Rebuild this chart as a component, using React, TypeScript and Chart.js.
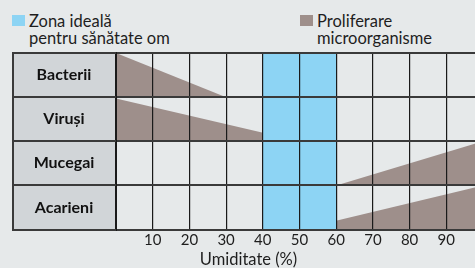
import React, { useEffect, useRef } from "react";
import { Chart, registerables } from "chart.js";

Chart.register(...registerables);

const categories = ["Bacterii", "Viruși", "Mucegai", "Acarieni"];
const xTicks = [0, 10, 20, 30, 40, 50, 60, 70, 80, 90, 100];
// ideal zone (humidity %)
const idealZone = [40, 60];
// proliferation wedges: [x start, y start] -> [x end, y end] in row units (row bottom = base)
const bacteriiWedge = [{ x: 0, y: 4 }, { x: 30, y: 3 }];
const virusiWedge = [{ x: 0, y: 2.97 }, { x: 50, y: 2 }];
const mucegaiWedge = [{ x: 60, y: 1 }, { x: 100, y: 2 }];
const acarieniWedge = [{ x: 50, y: 0 }, { x: 100, y: 1 }];
const wedgeBases = [3, 2, 1, 0];

const FONT = "Lato";
const BG = "#e6e9ea";
const LABEL_BG = "#d1d5d8";
const BLUE = "#8dd4f4";
const GRAY = "#9e8f8b";
const DARK = "#1e1e1e";
const LABEL_COL_W = 104;

export default function App() {
  const ref = useRef<HTMLCanvasElement | null>(null);

  useEffect(() => {
    const canvas = ref.current;
    if (!canvas) return;

    const m = document.createElement("canvas").getContext("2d")!;
    m.font = `bold 16px ${FONT}`;
    const widest = Math.max(...categories.map((c) => m.measureText(c).width));
    const labelPad = LABEL_COL_W / 2 - widest / 2;

    const labelColumn = {
      id: "labelColumn",
      beforeDraw(chart: any) {
        const { ctx, chartArea } = chart;
        const yl = chart.scales.yl;
        ctx.save();
        ctx.fillStyle = LABEL_BG;
        ctx.fillRect(yl.left, chartArea.top, chartArea.left - yl.left, chartArea.bottom - chartArea.top);
        ctx.restore();
      },
      afterDraw(chart: any) {
        const { ctx, chartArea } = chart;
        const yl = chart.scales.yl;
        const y = chart.scales.y;
        ctx.save();
        ctx.strokeStyle = "#3a3a3a";
        ctx.lineWidth = 2;
        for (let i = 0; i <= categories.length; i++) {
          const py = Math.round(y.getPixelForValue(i));
          ctx.beginPath();
          ctx.moveTo(yl.left, py);
          ctx.lineTo(chartArea.left, py);
          ctx.stroke();
        }
        ctx.beginPath();
        ctx.moveTo(yl.left + 1, chartArea.top);
        ctx.lineTo(yl.left + 1, chartArea.bottom);
        ctx.stroke();
        ctx.restore();
      },
    };

    const wedge = (data: any[], base: number) => ({
      type: "line" as const,
      data,
      yAxisID: "y",
      borderWidth: 0,
      pointRadius: 0,
      backgroundColor: GRAY,
      fill: { value: base },
      tension: 0,
    });

    const chart = new Chart(canvas, {
      type: "line",
      data: {
        datasets: [
          {
            data: [
              { x: idealZone[0], y: 4 },
              { x: idealZone[1], y: 4 },
            ],
            yAxisID: "y",
            borderWidth: 0,
            pointRadius: 0,
            backgroundColor: BLUE,
            fill: { value: 0 },
          },
          wedge(bacteriiWedge, wedgeBases[0]),
          wedge(virusiWedge, wedgeBases[1]),
          wedge(mucegaiWedge, wedgeBases[2]),
          wedge(acarieniWedge, wedgeBases[3]),
        ] as any,
      },
      options: {
        animation: false,
        responsive: false,
        events: [],
        layout: { padding: { left: 12, top: 53, right: 0, bottom: 0 } },
        plugins: {
          legend: { display: false },
          tooltip: { enabled: false },
          title: {
            display: true,
            position: "bottom",
            text: "Umiditate (%)",
            color: DARK,
            font: { family: FONT, size: 16.5, weight: "normal", lineHeight: 1 },
            padding: { top: 0, bottom: 0 },
          },
        },
        scales: {
          x: {
            type: "linear",
            min: 0,
            max: 100,
            afterBuildTicks(scale: any) {
              scale.ticks = xTicks.map((v) => ({ value: v }));
            },
            ticks: {
              z: 1,
              color: DARK,
              font: { family: FONT, size: 15 },
              padding: 2,
              maxRotation: 0,
              callback: (v: any) => (v === 0 || v === 100 ? "" : String(v)),
            },
            grid: {
              z: 1,
              color: "#1a1a1a",
              lineWidth: (ctx: any) => (ctx.tick && ctx.tick.value === 0 ? 2 : 1.2),
              drawTicks: false,
            },
            border: { z: 1, display: true, color: "#3a3a3a", width: 2 },
          },
          y: {
            type: "linear",
            min: 0,
            max: 4,
            display: false,
          },
          yl: {
            type: "category",
            labels: categories,
            position: "left",
            offset: true,
            afterFit(scale: any) {
              scale.width = LABEL_COL_W;
            },
            ticks: {
              z: 1,
              crossAlign: "center",
              padding: labelPad,
              color: "#111111",
              font: { family: FONT, size: 16, weight: "bold" },
            },
            grid: {
              z: 1,
              offset: true,
              color: "#3a3a3a",
              lineWidth: 2,
              drawTicks: false,
            },
            border: { z: 1, display: true, color: "#1a1a1a", width: 2 },
          },
        },
      } as any,
      plugins: [labelColumn],
    });

    return () => chart.destroy();
  }, []);

  const legendText: React.CSSProperties = {
    position: "absolute",
    fontFamily: FONT,
    fontSize: 16.5,
    lineHeight: "17px",
    color: DARK,
    whiteSpace: "nowrap",
  };

  return (
    <div
      style={{
        position: "fixed",
        left: 0,
        top: 0,
        width: 475,
        height: 268,
        overflow: "hidden",
        background: BG,
      }}
    >
      <div style={{ position: "absolute", left: 12, top: 15, width: 13, height: 11, background: BLUE }} />
      <div style={{ ...legendText, left: 29, top: 13 }}>
        Zona ideală
        <br />
        pentru sănătate om
      </div>
      <div style={{ position: "absolute", left: 300, top: 15, width: 13, height: 11, background: GRAY }} />
      <div style={{ ...legendText, left: 317, top: 13 }}>
        Proliferare
        <br />
        microorganisme
      </div>
      <canvas
        ref={ref}
        width={485}
        height={268}
        style={{ position: "absolute", left: 0, top: 0, width: 485, height: 268 }}
      />
    </div>
  );
}
